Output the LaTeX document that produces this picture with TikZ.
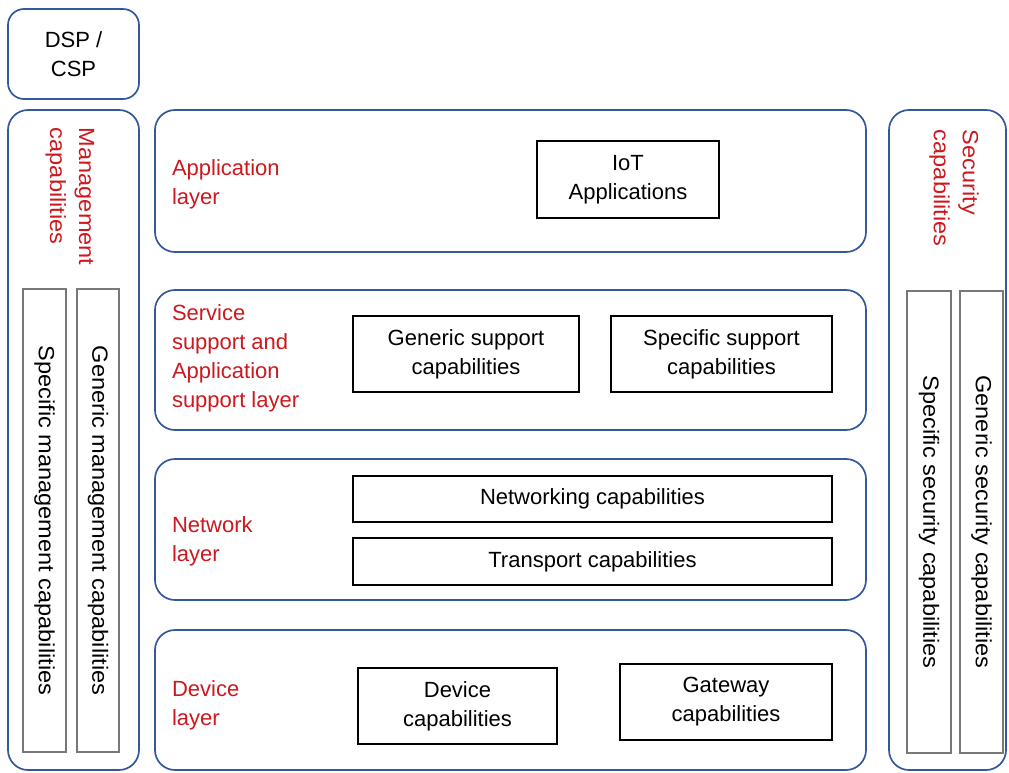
\documentclass[tikz,border=0pt]{standalone}
\usepackage{fontspec}
\setmainfont{Liberation Sans}
\newfontfamily\longfont[FakeStretch=1.07]{Liberation Sans}
\definecolor{frameblue}{RGB}{52,88,156}
\definecolor{labelred}{RGB}{204,24,30}
\definecolor{boxgray}{RGB}{120,120,120}
\begin{document}
\begin{tikzpicture}[x=1pt,y=-1pt,
  every node/.style={font=\fontsize{22}{29}\selectfont, inner sep=0pt, outer sep=0pt},
  roundframe/.style={draw=frameblue, line width=1.7pt, rounded corners=20pt},
  capbox/.style={draw=black, line width=1.9pt, align=center},
  sidebox/.style={draw=boxgray, line width=1.4pt, rotate=-90, font=\longfont\fontsize{22}{29}\selectfont},
  layerlabel/.style={text=labelred, anchor=west, align=left},
  sidelabel/.style={text=labelred, rotate=-90, anchor=west, align=left, font=\longfont\fontsize{22}{29}\selectfont}
]
\useasboundingbox (0,0) rectangle (1009,773);

% DSP / CSP header
\node[roundframe, rounded corners=16pt, minimum width=131pt, minimum height=90pt, align=center]
  (dsp) at (73.5,54) {DSP /\\CSP};

% management column
\node[roundframe, minimum width=131pt, minimum height=660pt] (mgmt) at (73.5,440) {};
\node[sidelabel] (mgmtlabel) at (70,128) {Management\\capabilities};
\node[sidebox, minimum width=463pt, minimum height=43pt] (mspec) at (44.5,520.5)
  {Specific management capabilities};
\node[sidebox, minimum width=463pt, minimum height=42pt] (mgen) at (98,520.5)
  {Generic management capabilities};

% security column
\node[roundframe, minimum width=117pt, minimum height=660pt] (sec) at (947.5,440) {};
\node[sidelabel] (seclabel) at (954,130) {Security\\capabilities};
\node[sidebox, minimum width=462pt, minimum height=44pt] (sspec) at (929,522)
  {Specific security capabilities};
\node[sidebox, minimum width=462pt, minimum height=43pt] (sgen) at (981.5,522)
  {Generic security capabilities};

% application layer
\node[roundframe, minimum width=711pt, minimum height=142pt] (app) at (510.5,181) {};
\node[layerlabel] (applabel) at (172,184) {Application\\layer};
\node[capbox, minimum width=182pt, minimum height=77pt] (iot) at (628,179.5) {IoT\\Applications};

% service support and application support layer
\node[roundframe, minimum width=711pt, minimum height=140pt] (svc) at (510.5,360) {};
\node[layerlabel] (svclabel) at (172,358) {Service\\support and\\Application\\support layer};
\node[capbox, minimum width=226pt, minimum height=76pt] (gensup) at (466,354) {Generic support\\capabilities};
\node[capbox, minimum width=221pt, minimum height=76pt] (specsup) at (721.5,354) {Specific support\\capabilities};

% network layer
\node[roundframe, minimum width=711pt, minimum height=141pt] (net) at (510.5,529.5) {};
\node[layerlabel] (netlabel) at (172,541) {Network\\layer};
\node[capbox, minimum width=479pt, minimum height=46pt] (netw) at (592.5,499) {Networking capabilities};
\node[capbox, minimum width=479pt, minimum height=47pt] (trans) at (592.5,561.5) {Transport capabilities};

% device layer
\node[roundframe, minimum width=711pt, minimum height=140pt] (dev) at (510.5,700) {};
\node[layerlabel] (devlabel) at (172,705) {Device\\layer};
\node[capbox, minimum width=199pt, minimum height=76pt] (devcap) at (457.5,706) {Device\\capabilities};
\node[capbox, minimum width=212pt, minimum height=76pt] (gw) at (726,702) {Gateway\\capabilities};
\end{tikzpicture}
\end{document}
